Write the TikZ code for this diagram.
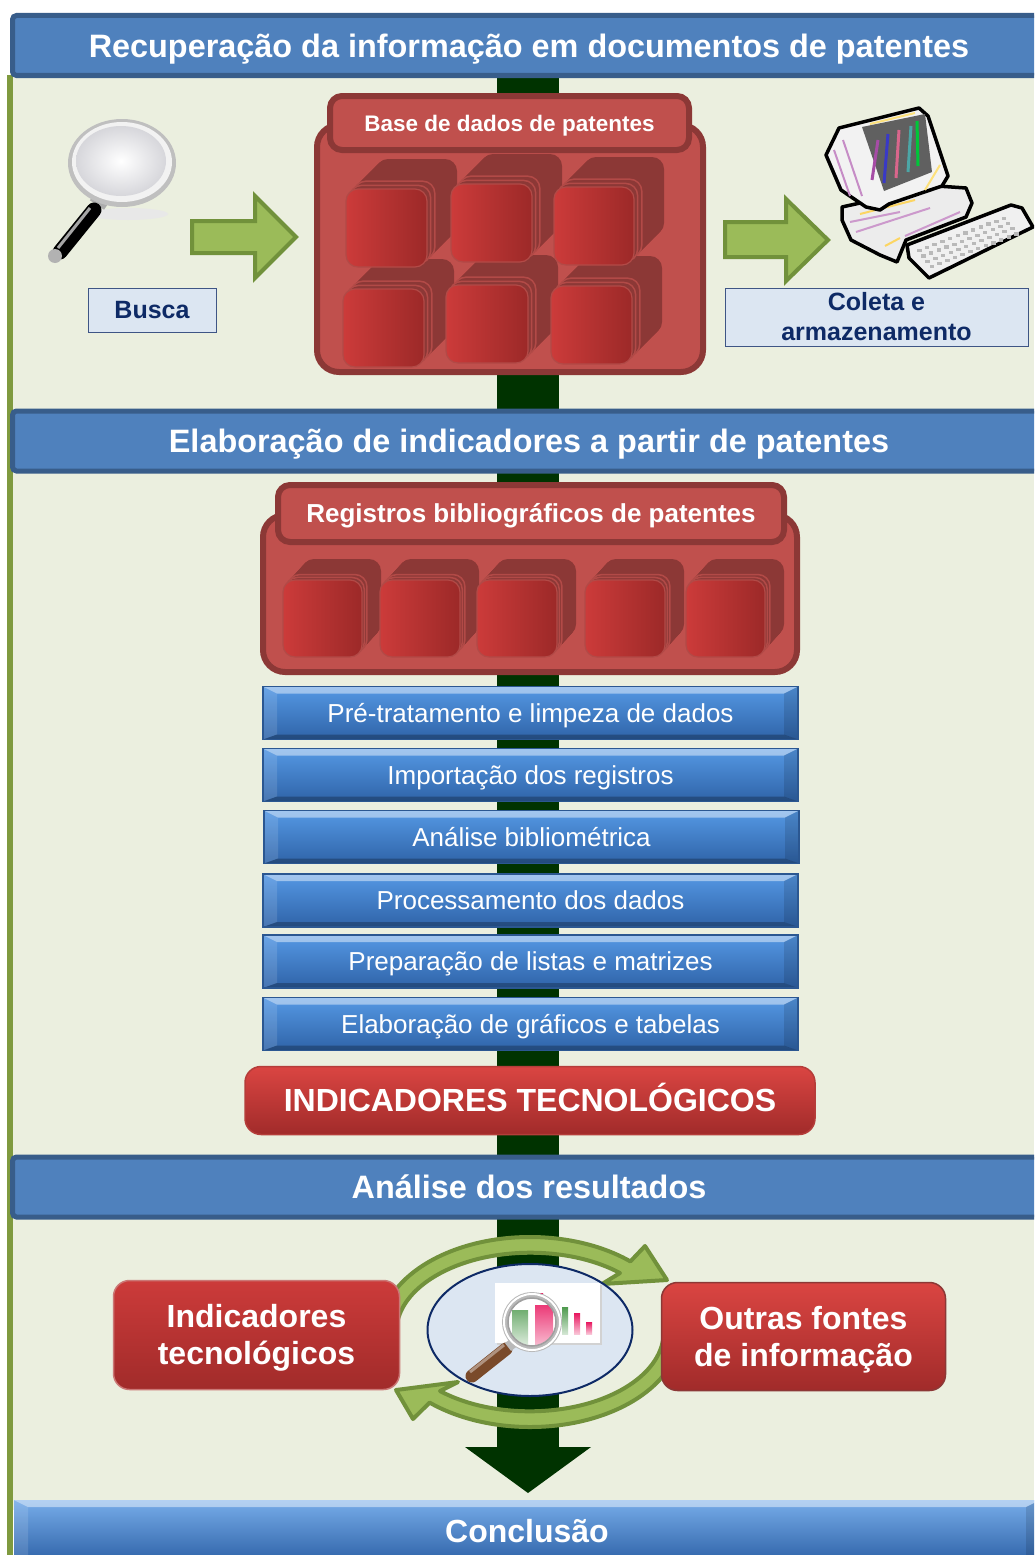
\documentclass[tikz,border=0pt]{standalone}
\usepackage{fontspec}
\setmainfont{Liberation Sans}
\usetikzlibrary{shapes.geometric,calc}

\definecolor{panel}{HTML}{EBEFDF}
\definecolor{olive}{HTML}{7F9A3F}
\definecolor{flowGreen}{HTML}{003300}
\definecolor{hdrFill}{HTML}{4F81BD}
\definecolor{hdrEdge}{HTML}{385D8A}
\definecolor{dbFill}{HTML}{C0504D}
\definecolor{dbEdge}{HTML}{8C3836}
\definecolor{cardLine}{HTML}{B24A47}
\definecolor{cardL}{HTML}{CC3B3A}
\definecolor{cardR}{HTML}{9C2928}
\definecolor{arrowFill}{HTML}{9BBB59}
\definecolor{arrowEdge}{HTML}{71913B}
\definecolor{labelFill}{HTML}{DCE6F2}
\definecolor{navy}{HTML}{0E2A66}
\definecolor{stepTop}{HTML}{5598E4}
\definecolor{stepBot}{HTML}{2F63A8}
\definecolor{stepEdge}{HTML}{2B5791}
\definecolor{redTop}{HTML}{DA4542}
\definecolor{redBot}{HTML}{A12B2A}
\definecolor{redEdge}{HTML}{B53D3A}
\definecolor{barG}{HTML}{4E9A4E}
\definecolor{barP}{HTML}{E8175F}
\definecolor{wood}{HTML}{7A4A2A}

% stacked database cards: x, y (front card top-left), w, h, depth x, depth y
\newcommand\cardstack[6]{%
  \foreach \k in {0,1,...,20}{%
    \pgfmathsetmacro\fr{1-\k/20*0.72}%
    \fill[dbEdge,rounded corners=12] (#1+\fr*#5,#2-\fr*#6) rectangle ++(#3,#4);
  }
  \filldraw[fill=dbEdge,draw=cardLine,line width=1.5,rounded corners=12]
    (#1+0.26*#5,#2-0.26*#6) rectangle ++(#3,#4);
  \filldraw[fill=dbEdge,draw=cardLine,line width=1.5,rounded corners=12]
    (#1+0.12*#5,#2-0.12*#6) rectangle ++(#3,#4);
  \draw[draw=cardLine,line width=1.2,left color=cardL,right color=cardR,rounded corners=12]
    (#1,#2) rectangle ++(#3,#4);
}

\tikzset{
  capbox/.style={text height=#1, text depth=0pt},
  header/.style={draw=hdrEdge, fill=hdrFill, line width=5, rounded corners=4,
    minimum width=1033, minimum height=60, text=white, capbox=23.2pt,
    font=\fontsize{32.4}{38}\selectfont\bfseries},
  bevel/.style={path picture={
    \fill[white,opacity=.45] (path picture bounding box.north west) -- (path picture bounding box.north east)
      -- ([shift={(-14,7)}]path picture bounding box.north east) -- ([shift={(14,7)}]path picture bounding box.north west) -- cycle;
    \fill[white,opacity=.12] (path picture bounding box.north west) -- ([shift={(14,7)}]path picture bounding box.north west)
      -- ([shift={(14,-5)}]path picture bounding box.south west) -- (path picture bounding box.south west) -- cycle;
    \fill[black,opacity=.12] (path picture bounding box.north east) -- ([shift={(-14,7)}]path picture bounding box.north east)
      -- ([shift={(-14,-5)}]path picture bounding box.south east) -- (path picture bounding box.south east) -- cycle;
    \fill[black,opacity=.25] (path picture bounding box.south west) -- (path picture bounding box.south east)
      -- ([shift={(-14,-5)}]path picture bounding box.south east) -- ([shift={(14,-5)}]path picture bounding box.south west) -- cycle;
  }},
  stepbox/.style={draw=stepEdge, line width=1.5, top color=stepTop, bottom color=stepBot,
    minimum width=535, minimum height=53, text=white, capbox=18.6pt,
    font=\fontsize{26}{30}\selectfont, bevel},
  redbox/.style={draw=redEdge, line width=1.5, rounded corners=16, top color=redTop,
    bottom color=redBot, text=white, align=center, capbox=22.9pt,
    font=\fontsize{32}{37}\selectfont\bfseries},
  dbbody/.style={draw=dbEdge, fill=dbFill, line width=6, rounded corners=22},
  dbtab/.style={draw=dbEdge, fill=dbFill, line width=6, rounded corners=12, text=white},
  labelbox/.style={draw=navy!80, line width=1, fill=labelFill, text=navy, align=center, capbox=17.9pt,
    font=\fontsize{25}{30}\selectfont\bfseries},
  blockarrow/.style={fill=arrowFill, draw=arrowEdge, line width=4, line join=miter},
  cyclearrow/.style={fill=arrowFill, draw=arrowEdge, line width=4, line join=round},
}

\begin{document}
\begin{tikzpicture}[x=1pt,y=-1pt,every node/.style={inner sep=0pt,outer sep=0pt}]
\useasboundingbox (0,0) rectangle (1034,1555);
\clip (0,0) rectangle (1034,1555);
\fill[white] (0,0) rectangle (1034,1555);
\fill[panel] (10,70) rectangle (1034,1510);
\fill[olive] (7,75) rectangle (13,1555);

% main downward flow arrow
\fill[flowGreen] (497,78) rectangle (559,1447);
\fill[flowGreen] (465,1447) -- (591,1447) -- (528,1493) -- cycle;

% section bands
\node[header] (h1) at (529,45.5) {Recuperação da informação em documentos de patentes};
\node[header] (h2) at (529,441) {Elaboração de indicadores a partir de patentes};
\node[header] (h3) at (529,1187) {Análise dos resultados};

% ---------- search section ----------
% magnifying glass
\fill[gray!18] (128,214) ellipse[x radius=40,y radius=6];
\draw[line width=17,gray!65] (105,193) -- (97,205);
\draw[line width=15,black,line cap=round] (94,210) -- (60,252);
\draw[line width=3,gray!70] (90,208) -- (58,248);
\fill[gray!60] (55,256) circle (7);
\fill[gray!50] (122,163) ellipse[x radius=54,y radius=44];
\fill[gray!10] (122,162) ellipse[x radius=50,y radius=40];
\shade[inner color=white,outer color=blue!6!gray!30] (121,161) ellipse[x radius=45,y radius=35];

\draw[blockarrow] (192,221) -- (255,221) -- (255,196) -- (296,237) -- (255,278) -- (255,253) -- (192,253) -- cycle;
\node[labelbox, minimum width=128, minimum height=44] (busca) at (152,310) {Busca};

% patent database
\node[dbbody, minimum width=386, minimum height=247] (dbBase) at (510,248.5) {};
\node[dbtab, minimum width=359, minimum height=54, capbox=16.1pt, font=\fontsize{22.5}{26}\selectfont\bfseries]
  (dbBaseTitle) at (509.5,123) {Base de dados de patentes};
\cardstack{343}{289}{81}{78}{30}{30}
\cardstack{446}{285}{82}{78}{30}{30}
\cardstack{551}{286}{81}{78}{30}{30}
\cardstack{346}{189}{81}{78}{30}{30}
\cardstack{451}{184}{81}{78}{30}{30}
\cardstack{554}{187}{80}{78}{30}{30}

\draw[blockarrow] (725,222) -- (786,222) -- (786,199) -- (828,240) -- (786,281) -- (786,257) -- (725,257) -- cycle;

% computer
\begin{scope}[line join=round]
\filldraw[fill=gray!12,draw=black,line width=3.5] (907,245) -- (1011,205) -- (1022,208) -- (1033,227) -- (929,278) -- (909,258) -- cycle;
\foreach \i in {0,...,11}{\foreach \j in {0,...,3}{
  \fill[gray!55] (917+\i*7.7+\j*4.2,249-\i*2.95+\j*5.3) rectangle ++(4.5,3.2);}}
\filldraw[fill=gray!15,draw=black,line width=3.5] (842,207) -- (937,186) -- (966,188) -- (972,203) -- (966,217) -- (906,240) -- (897,262) -- (880,255) -- (851,240) -- (842,220) -- cycle;
\draw[violet!40,line width=2] (850,222) -- (900,212) (856,232) -- (930,208) (905,236) -- (960,212);
\draw[yellow!50!orange!60,line width=2] (860,214) -- (915,200) (885,246) -- (900,238);
\filldraw[fill=gray!10,draw=black,line width=3.5] (826,155) -- (839,128) -- (919,108) -- (928,116) -- (948,176) -- (942,186) -- (889,204) -- (880,210) -- (866,207) -- (841,190) -- cycle;
\draw[violet!45,line width=2] (834,150) -- (850,196) (843,140) -- (862,196);
\draw[yellow!60!orange!50,line width=2] (870,124) -- (915,113) (940,165) -- (925,190);
\fill[gray!75!black] (862,127) -- (925,114) -- (932,172) -- (884,191) -- cycle;
\draw[line width=3,violet!70] (872,180) -- (878,140);
\draw[line width=3,blue!55!gray] (884,183) -- (888,134);
\draw[line width=3,violet!50!red!60] (896,178) -- (899,130);
\draw[line width=3,teal!70] (908,172) -- (911,126);
\draw[line width=3,green!55!teal] (918,166) -- (917,121);
\end{scope}
\node[labelbox, capbox=47.9pt, minimum width=303, minimum height=58] (coleta) at (876.5,317) {Coleta e\\armazenamento};

% ---------- indicator section ----------
\node[dbbody, minimum width=534, minimum height=157] (dbReg) at (530,593.5) {};
\node[dbtab, minimum width=506, minimum height=57, capbox=18.6pt, font=\fontsize{26}{30}\selectfont\bfseries]
  (dbRegTitle) at (531,513.5) {Registros bibliográficos de patentes};
\cardstack{283}{580}{79}{77}{19}{21}
\cardstack{380}{580}{80}{77}{19}{21}
\cardstack{477}{580}{80}{77}{19}{21}
\cardstack{585}{580}{80}{77}{19}{21}
\cardstack{686}{580}{79}{77}{19}{21}

\node[stepbox] (s1) at (530.5,713) {Pré-tratamento e limpeza de dados};
\node[stepbox] (s2) at (530.5,775) {Importação dos registros};
\node[stepbox] (s3) at (531.5,837) {Análise bibliométrica};
\node[stepbox] (s4) at (530.5,900.5) {Processamento dos dados};
\node[stepbox] (s5) at (530.5,961.5) {Preparação de listas e matrizes};
\node[stepbox] (s6) at (530.5,1024) {Elaboração de gráficos e tabelas};

\node[redbox, minimum width=570, minimum height=68] (indtec) at (530,1100.5) {INDICADORES TECNOLÓGICOS};

% ---------- analysis section ----------
\draw[cyclearrow] (380,1332) arc[start angle=180,end angle=312,x radius=150,y radius=95]
  -- (645,1246) -- (667,1280) -- (602,1284) -- (620,1273)
  arc[start angle=312,end angle=180,x radius=134,y radius=79] -- cycle;
\draw[cyclearrow] (680,1332) arc[start angle=0,end angle=132,x radius=150,y radius=95]
  -- (413,1419) -- (396,1390) -- (458,1382) -- (440,1391)
  arc[start angle=132,end angle=0,x radius=134,y radius=79] -- cycle;

\node[ellipse, draw=navy, line width=2, fill=labelFill, minimum width=205, minimum height=132] (lupa) at (530,1330) {};
% chart under the lens
\fill[gray!35] (497,1285) rectangle (602,1345);
\fill[white] (495,1283) rectangle (600,1343);
\shade[top color=barG,bottom color=barG!25] (522,1295) rectangle (528,1334);
\shade[top color=barP,bottom color=barP!25] (537,1293) rectangle (543,1334);
\shade[top color=barG,bottom color=barG!25] (562,1307) rectangle (568,1334);
\shade[top color=barP,bottom color=barP!25] (574,1313) rectangle (580,1334);
\shade[top color=barP,bottom color=barP!25] (586,1322) rectangle (592,1334);
\draw[line width=13,wood,line cap=round] (506,1349) -- (472,1376);
\draw[line width=3,wood!60!white] (504,1345) -- (470,1372);
\draw[line width=10,gray!55] (517,1340) -- (508,1347);
\begin{scope}
  \clip (532,1322) circle (24);
  \fill[white] (532,1322) circle (24);
  \shade[top color=barG!80,bottom color=barG!20] (512,1310) rectangle (528,1345);
  \shade[top color=barP!85,bottom color=barP!30] (535,1305) rectangle (553,1345);
\end{scope}
\draw[line width=6,gray!55] (532,1322) circle (27);
\draw[line width=2,white] (532,1322) circle (28);
\draw[line width=1.5,gray!75] (532,1322) circle (24);

\node[redbox, capbox=59.9pt, draw=redEdge!70!white, top color=cardL, bottom color=redBot, minimum width=286, minimum height=109]
  (indic) at (256.5,1335) {Indicadores\\tecnológicos};
\node[redbox, capbox=59.9pt, draw=dbEdge, minimum width=284, minimum height=108] (outras) at (803.5,1336.5) {Outras fontes\\de informação};

% conclusion band
\node[stepbox, draw=none, top color=stepTop!80!white, bottom color=stepBot, minimum width=1026, minimum height=62,
  capbox=22.9pt, font=\fontsize{32}{38}\selectfont\bfseries] (concl) at (527,1531) {Conclusão};
\end{tikzpicture}
\end{document}
